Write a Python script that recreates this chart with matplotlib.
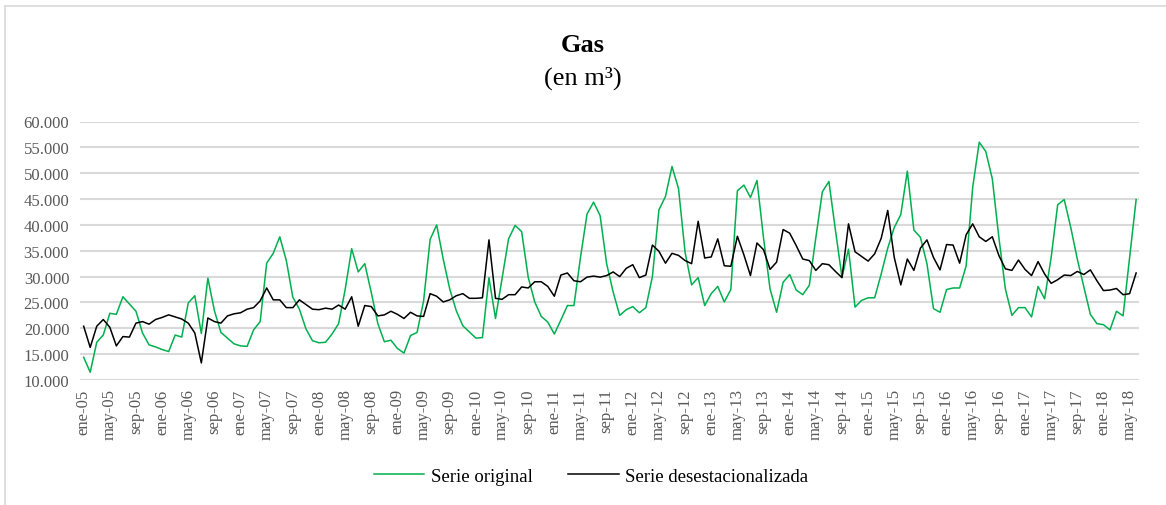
import matplotlib
matplotlib.use("Agg")
import matplotlib.pyplot as plt
from matplotlib.lines import Line2D
from matplotlib.ticker import FuncFormatter

# Monthly gas series, ene-05 to jun-18 (thousands of m3)
meses = ["ene", "feb", "mar", "abr", "may", "jun", "jul", "ago", "sep", "oct", "nov", "dic"]
anios = list(range(5, 19))
periodos = [f"{m}-{a:02d}" for a in anios for m in meses][:162]

serie_original = [
    14.4, 11.5, 17.3, 18.7, 22.9, 22.7, 26.1, 24.7, 23.3, 19.1, 16.8, 16.4,
    15.9, 15.5, 18.7, 18.3, 24.9, 26.3, 19.0, 29.7, 23.4, 19.2, 18.1, 17.0,
    16.6, 16.5, 19.7, 21.3, 32.6, 34.5, 37.7, 33.1, 26.0, 23.7, 19.9, 17.6,
    17.2, 17.3, 18.9, 20.9, 27.5, 35.4, 30.9, 32.5, 26.9, 20.9, 17.4, 17.7,
    16.1, 15.2, 18.6, 19.2, 25.3, 37.2, 40.0, 33.4, 27.6, 23.4, 20.5, 19.3,
    18.1, 18.2, 29.8, 21.9, 29.6, 37.3, 39.9, 38.7, 29.9, 25.1, 22.3, 21.2,
    18.9, 21.6, 24.4, 24.4, 33.7, 42.1, 44.4, 41.8, 32.5, 27.0, 22.5, 23.6,
    24.2, 23.0, 24.0, 30.0, 42.9, 45.5, 51.3, 47.0, 34.7, 28.4, 29.8, 24.4,
    26.7, 28.1, 25.1, 27.5, 46.6, 47.7, 45.3, 48.6, 37.5, 27.6, 23.1, 28.9,
    30.4, 27.4, 26.5, 28.3, 37.5, 46.4, 48.4, 39.0, 29.9, 35.3, 24.1, 25.4,
    25.9, 25.9, 30.5, 35.5, 39.5, 42.0, 50.4, 39.0, 37.6, 32.5, 23.8, 23.1,
    27.5, 27.8, 27.8, 32.1, 47.3, 56.0, 54.2, 48.9, 37.6, 27.6, 22.5, 24.0,
    24.0, 22.2, 28.1, 25.7, 33.7, 43.9, 44.9, 39.5, 33.4, 28.0, 22.7, 20.9,
    20.7, 19.7, 23.3, 22.4, 33.7, 44.9,
]

serie_desest = [
    20.4, 16.3, 20.4, 21.7, 20.2, 16.6, 18.4, 18.3, 21.0, 21.3, 20.8, 21.7,
    22.1, 22.6, 22.2, 21.8, 21.0, 19.1, 13.3, 22.0, 21.3, 21.0, 22.4, 22.8,
    23.0, 23.7, 24.0, 25.3, 27.8, 25.5, 25.5, 24.0, 24.0, 25.5, 24.6, 23.7,
    23.6, 23.9, 23.7, 24.5, 23.7, 26.1, 20.4, 24.4, 24.2, 22.4, 22.6, 23.3,
    22.7, 21.9, 23.1, 22.4, 22.3, 26.7, 26.2, 25.1, 25.5, 26.3, 26.7, 25.8,
    25.8, 25.9, 37.1, 25.8, 25.6, 26.5, 26.5, 28.0, 27.8, 29.0, 29.0, 28.1,
    26.2, 30.3, 30.7, 29.2, 29.0, 29.9, 30.1, 29.9, 30.2, 30.9, 30.0, 31.6,
    32.3, 29.8, 30.3, 36.1, 34.9, 32.6, 34.5, 34.1, 33.1, 32.5, 40.7, 33.6,
    33.8, 37.3, 32.1, 32.0, 37.8, 34.2, 30.2, 36.5, 35.2, 31.4, 32.8, 39.1,
    38.4, 36.0, 33.4, 33.1, 31.2, 32.5, 32.3, 31.0, 29.8, 40.2, 34.8, 33.9,
    33.0, 34.4, 37.4, 42.8, 33.7, 28.4, 33.4, 31.2, 35.5, 37.1, 33.7, 31.3,
    36.2, 36.1, 32.6, 38.1, 40.2, 37.7, 36.8, 37.7, 34.1, 31.5, 31.2, 33.2,
    31.4, 30.2, 32.9, 30.5, 28.7, 29.4, 30.3, 30.2, 31.0, 30.4, 31.3, 29.2,
    27.3, 27.4, 27.7, 26.5, 26.7, 30.7,
]

plt.rcParams['font.family'] = ['Liberation Serif', 'DejaVu Serif']

fig = plt.figure(figsize=(11.66, 5.06), dpi=100)
ax = fig.add_axes([80.4 / 1166, 1 - 381 / 506, (1139.4 - 80.4) / 1166, (381 - 122.5) / 506])

x = list(range(len(periodos)))
ax.plot(x, [v * 1000 for v in serie_original], color='#00B050', lw=1.1, label='Serie original')
ax.plot(x, [v * 1000 for v in serie_desest], color='black', lw=1.1, label='Serie desestacionalizada')

ax.set_xlim(-0.5, len(periodos) - 0.5)
ax.set_ylim(10000, 60000)
ax.set_yticks(range(10000, 60001, 5000))
ax.yaxis.set_major_formatter(FuncFormatter(lambda v, p: f"{v:,.0f}".replace(",", ".")))
ax.set_xticks(x[::4])
ax.set_xticklabels(periodos[::4], rotation=90)

# Excel-like look: grey gridlines, no spines, no tick marks
ax.grid(axis='y', color='#d9d9d9', lw=1.5)
ax.set_axisbelow(True)
for s in ax.spines.values():
    s.set_visible(False)
ax.tick_params(axis='both', length=0, colors='#595959', labelsize=12)
ax.tick_params(axis='y', pad=8)
ax.tick_params(axis='x', pad=6)

fig.text(0.5, 1 - 45 / 506, 'Gas', ha='center', va='center', fontsize=19, fontweight='bold')
fig.text(0.5, 1 - 78 / 506, '(en m³)', ha='center', va='center', fontsize=19)

fig.legend(loc='center', bbox_to_anchor=(591 / 1166, 1 - 477 / 506), ncol=2, frameon=False,
           fontsize=13.5, handlelength=2.7, handletextpad=0.35, columnspacing=1.9)

# chart border (only left and top edges visible in the crop)
fig.add_artist(Line2D([5 / 1166, 5 / 1166], [0, 1 - 7 / 506], color='#d9d9d9', lw=1.2))
fig.add_artist(Line2D([5 / 1166, 1], [1 - 7 / 506, 1 - 7 / 506], color='#d9d9d9', lw=1.2))

fig.savefig('out.png', dpi=100)
